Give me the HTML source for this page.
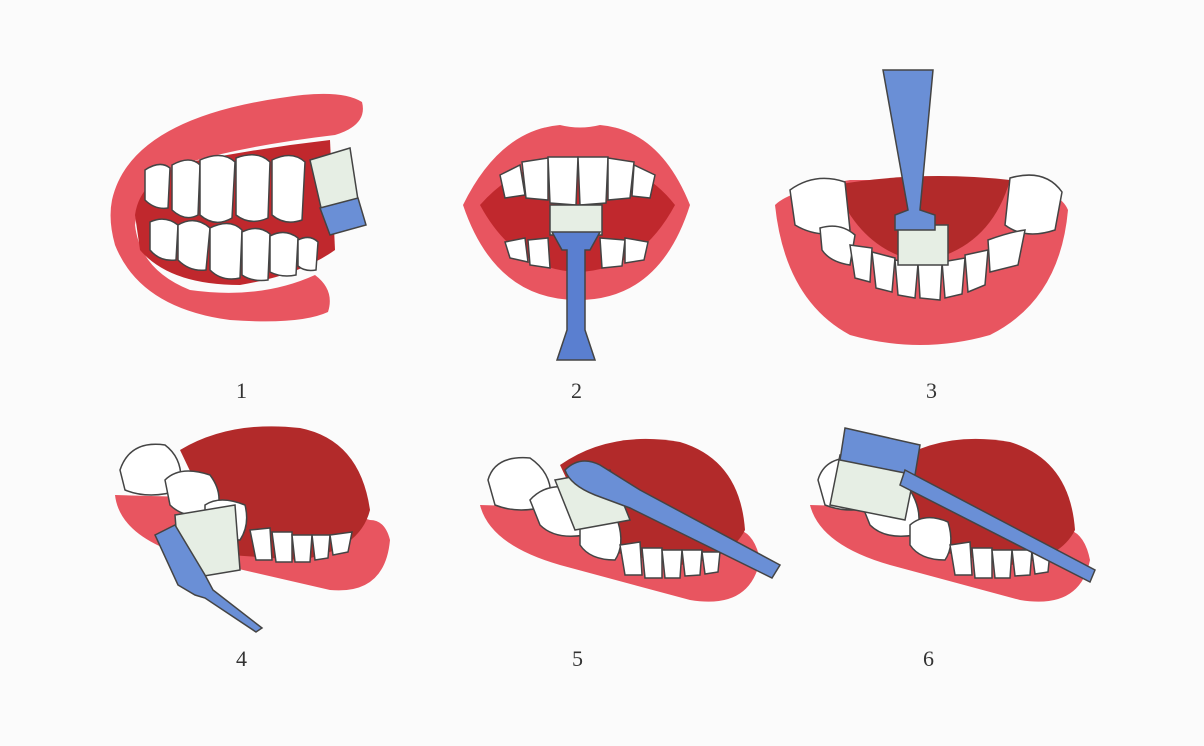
<!DOCTYPE html>
<html><head><style>
html,body{margin:0;padding:0;background:#fbfbfb;}
svg{display:block}
text{font-family:"Liberation Serif",serif;font-size:22px;fill:#333}
</style></head><body>
<svg width="1204" height="746" viewBox="0 0 1204 746" xmlns="http://www.w3.org/2000/svg">
<rect width="1204" height="746" fill="#fbfbfb"/>
<g stroke="#444" stroke-width="1.5">
<!-- Panel 1 -->
<path d="M112 200 Q130 120 280 98 Q340 88 362 102 Q368 125 335 135 Q250 145 190 162 Q140 180 135 225 Q140 270 190 290 Q260 300 315 275 Q335 290 328 312 Q300 325 230 320 Q140 308 115 245 Q108 220 112 200Z" fill="#e85560" stroke="none"/>
<path d="M135 215 Q140 178 190 162 Q260 148 330 140 L335 250 Q300 275 240 285 Q170 285 140 250Z" fill="#c0282d" stroke="none"/>
<g fill="#fff">
<path d="M145 170 Q160 160 170 168 L168 208 Q155 210 145 200Z"/>
<path d="M172 165 Q190 155 200 165 L198 215 Q185 222 172 210Z"/>
<path d="M200 160 Q222 150 235 162 L232 218 Q215 228 200 215Z"/>
<path d="M236 158 Q258 150 270 162 L268 218 Q250 226 236 215Z"/>
<path d="M272 160 Q292 150 305 162 L302 220 Q285 226 272 215Z"/>
<path d="M150 222 Q165 215 178 225 L176 260 Q160 262 150 250Z"/>
<path d="M178 225 Q195 215 210 228 L206 270 Q190 272 178 260Z"/>
<path d="M210 228 Q230 218 242 230 L240 278 Q222 282 210 270Z"/>
<path d="M242 232 Q258 224 270 234 L268 280 Q252 282 242 275Z"/>
<path d="M270 236 Q285 228 298 238 L296 275 Q282 278 270 272Z"/>
<path d="M298 240 Q310 234 318 242 L316 270 Q305 272 298 266Z"/>
</g>
<path d="M310 160 L350 148 L358 200 L322 212Z" fill="#e6eee4"/>
<path d="M320 208 L358 198 L366 225 L330 235Z" fill="#6a8fd6"/>
<!-- Panel 2 -->
<path d="M463 205 Q500 130 560 125 Q580 130 600 125 Q660 130 690 205 Q660 300 578 300 Q495 300 463 205Z" fill="#e85560" stroke="none"/>
<path d="M480 205 Q520 160 578 158 Q640 160 675 205 Q640 270 578 272 Q515 270 480 205Z" fill="#c0282d" stroke="none"/>
<g fill="#fff">
<path d="M500 175 L520 165 L525 195 L505 198Z"/>
<path d="M522 162 L548 158 L548 200 L526 198Z"/>
<path d="M548 157 L578 157 L576 205 L550 203Z"/>
<path d="M578 157 L608 157 L606 203 L580 205Z"/>
<path d="M608 158 L634 162 L630 198 L608 200Z"/>
<path d="M634 165 L655 175 L650 198 L632 196Z"/>
<path d="M505 242 L525 238 L528 262 L510 258Z"/>
<path d="M528 240 L548 238 L550 268 L530 265Z"/>
<path d="M600 238 L625 240 L622 266 L602 268Z"/>
<path d="M625 238 L648 242 L644 260 L625 263Z"/>
</g>
<rect x="550" y="205" width="52" height="30" fill="#e6eee4"/>
<path d="M552 232 L600 232 L590 250 L585 250 L585 330 L595 360 L557 360 L567 330 L567 250 L562 250Z" fill="#5a7fd0"/>
<!-- Panel 3 -->
<path d="M775 205 Q790 190 850 180 L1010 180 Q1060 190 1068 210 Q1060 300 990 335 Q920 355 850 335 Q785 300 775 205Z" fill="#e85560" stroke="none"/>
<path d="M835 185 Q920 170 1010 180 Q990 250 920 262 Q860 250 835 185Z" fill="#b22a2a" stroke="none"/>
<g fill="#fff">
<path d="M790 190 Q815 172 845 182 L850 230 Q820 240 795 225Z"/>
<path d="M1010 178 Q1045 168 1062 192 L1055 230 Q1025 240 1005 225Z"/>
<path d="M820 228 Q840 222 855 235 L850 265 Q830 262 822 250Z"/>
<path d="M850 245 L872 248 L870 282 L855 278Z"/>
<path d="M872 252 L895 258 L892 292 L876 288Z"/>
<path d="M895 260 L918 264 L915 298 L898 295Z"/>
<path d="M918 264 L942 264 L940 300 L920 298Z"/>
<path d="M942 262 L965 258 L962 294 L945 298Z"/>
<path d="M965 255 L988 250 L985 285 L968 292Z"/>
<path d="M988 240 Q1010 232 1025 230 L1018 265 L990 272Z"/>
</g>
<rect x="898" y="225" width="50" height="40" fill="#e6eee4"/>
<path d="M883 70 L933 70 L920 210 L935 215 L935 230 L895 230 L895 215 L908 210Z" fill="#6a8fd6"/>
</g>
<g stroke="#444" stroke-width="1.5">
<!-- 4 -->
<path d="M115 495 Q120 540 200 560 L330 590 Q385 595 390 540 Q385 520 370 520 L300 500 Z" fill="#e85560" stroke="none"/>
<path d="M180 450 Q230 420 300 428 Q360 440 370 510 Q360 550 300 560 L230 555 Z" fill="#b22a2a" stroke="none"/>
<g fill="#fff">
<path d="M120 470 Q130 440 165 445 Q185 460 180 490 Q150 500 125 490Z"/>
<path d="M165 480 Q180 465 210 475 Q225 495 215 515 Q185 520 170 505Z"/>
<path d="M205 505 Q220 495 245 505 Q250 525 240 540 Q215 540 205 525Z"/>
<path d="M250 530 L270 528 L272 560 L256 560Z"/>
<path d="M272 532 L292 532 L292 562 L276 562Z"/>
<path d="M292 535 L312 535 L310 562 L295 562Z"/>
<path d="M312 535 L330 535 L328 558 L315 560Z"/>
<path d="M330 535 L352 532 L348 552 L333 555Z"/>
</g>
<path d="M175 515 L235 505 L240 570 L180 580Z" fill="#e6eee4"/>
<path d="M155 535 L175 525 L205 575 L213 590 L262 628 L256 632 L205 598 L195 595 L178 585Z" fill="#6a8fd6"/>
<!-- 5 -->
<path d="M480 505 Q490 545 560 565 L690 600 Q750 610 760 560 Q755 535 740 530 L650 510 Z" fill="#e85560" stroke="none"/>
<path d="M560 465 Q610 430 680 442 Q740 460 745 530 Q730 560 680 565 L600 550 Z" fill="#b22a2a" stroke="none"/>
<g fill="#fff">
<path d="M488 480 Q495 455 530 458 Q555 475 550 505 Q520 515 495 505Z"/>
<path d="M530 500 Q548 480 580 490 Q595 515 585 535 Q555 540 540 525Z"/>
<path d="M580 525 Q595 512 618 522 Q625 545 615 560 Q590 560 580 545Z"/>
<path d="M620 545 L640 542 L642 575 L625 575Z"/>
<path d="M642 548 L662 548 L662 578 L645 578Z"/>
<path d="M662 550 L682 550 L680 578 L665 578Z"/>
<path d="M682 550 L702 550 L700 575 L685 576Z"/>
<path d="M702 552 L720 552 L718 572 L705 574Z"/>
</g>
<path d="M555 480 L610 470 L630 520 L575 530Z" fill="#e6eee4"/>
<path d="M565 470 Q580 455 600 465 L640 490 L780 565 L772 578 L630 508 L595 495 Q570 485 565 470Z" fill="#6a8fd6"/>
<!-- 6 -->
<path d="M810 505 Q820 545 890 565 L1020 600 Q1080 610 1090 560 Q1085 535 1070 530 L980 510 Z" fill="#e85560" stroke="none"/>
<path d="M890 465 Q940 430 1010 442 Q1070 460 1075 530 Q1060 560 1010 565 L930 550 Z" fill="#b22a2a" stroke="none"/>
<g fill="#fff">
<path d="M818 480 Q825 455 860 458 Q885 475 880 505 Q850 515 825 505Z"/>
<path d="M860 500 Q878 480 910 490 Q925 515 915 535 Q885 540 870 525Z"/>
<path d="M910 525 Q925 512 948 522 Q955 545 945 560 Q920 560 910 545Z"/>
<path d="M950 545 L970 542 L972 575 L955 575Z"/>
<path d="M972 548 L992 548 L992 578 L975 578Z"/>
<path d="M992 550 L1012 550 L1010 578 L995 578Z"/>
<path d="M1012 550 L1032 550 L1030 575 L1015 576Z"/>
<path d="M1032 552 L1050 552 L1048 572 L1035 574Z"/>
</g>
<path d="M840 455 L915 470 L905 520 L830 505Z" fill="#e6eee4"/>
<path d="M845 428 L920 445 L915 475 L840 460Z" fill="#6a8fd6"/>
<path d="M905 470 L1095 570 L1090 582 L900 485Z" fill="#6a8fd6"/>
</g>
<text x="236" y="398">1</text>
<text x="571" y="398">2</text>
<text x="926" y="398">3</text>
<text x="236" y="666">4</text>
<text x="572" y="666">5</text>
<text x="923" y="666">6</text>
</svg>
</body></html>
